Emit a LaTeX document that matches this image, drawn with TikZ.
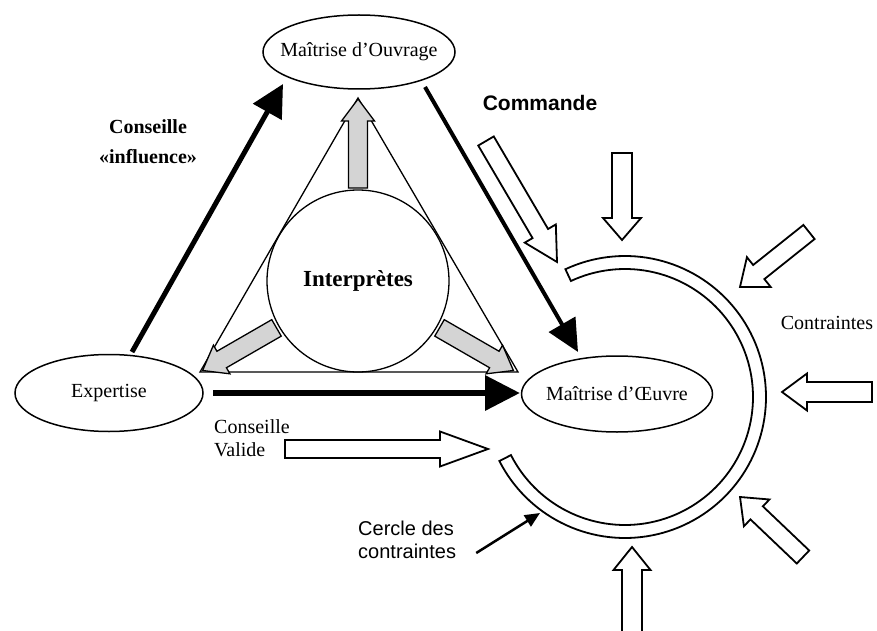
\documentclass[tikz,border=0pt]{standalone}
\usepackage{fontspec}
\setmainfont{Liberation Serif}
\setsansfont{Liberation Sans}
\usetikzlibrary{arrows.meta,shapes.geometric,calc}

% hollow / filled block arrow: #1 style, (#2,#3) tail, (#4,#5) tip,
% #6 shaft half width, #7 head half width, #8 head length
\newcommand\hollowarrow[8]{%
  \pgfmathsetmacro\haL{veclen((#4)-(#2),(#5)-(#3))}%
  \pgfmathsetmacro\haUx{((#4)-(#2))/\haL}%
  \pgfmathsetmacro\haUy{((#5)-(#3))/\haL}%
  \pgfmathsetmacro\haBx{(#4)-(#8)*\haUx}%
  \pgfmathsetmacro\haBy{(#5)-(#8)*\haUy}%
  \draw[#1] ({(#2)-(#6)*\haUy},{(#3)+(#6)*\haUx})
     -- ({\haBx-(#6)*\haUy},{\haBy+(#6)*\haUx})
     -- ({\haBx-(#7)*\haUy},{\haBy+(#7)*\haUx})
     -- (#4,#5)
     -- ({\haBx+(#7)*\haUy},{\haBy-(#7)*\haUx})
     -- ({\haBx+(#6)*\haUy},{\haBy-(#6)*\haUx})
     -- ({(#2)+(#6)*\haUy},{(#3)-(#6)*\haUx}) -- cycle;%
}

\begin{document}
\begin{tikzpicture}[x=1pt,y=-1pt,
  oval/.style={ellipse, draw, line width=1.5pt, inner sep=0pt, fill=white,
               font=\fontsize{20}{24}\selectfont},
  blackarrow/.style={line width=5pt, -{Triangle[length=32pt,width=32pt]}},
  grayarrow/.style={draw=black, fill=black!17, line width=1.3pt, line join=miter},
  whitearrow/.style={draw=black, fill=white, line width=1.8pt, line join=miter},
  serifnote/.style={inner sep=0pt, font=\fontsize{20}{23}\selectfont},
  sansnote/.style={inner sep=0pt, font=\sffamily\fontsize{20}{23}\selectfont},
  thinarrow/.style={line width=2.5pt, -{Triangle[length=15pt,width=13pt]}}
]
\fill[white] (0,0) rectangle (877,631);
\useasboundingbox (0,0) rectangle (877,631);

% white block arrows (constraints)
\hollowarrow{whitearrow}{486}{141}{557}{262}{9}{18}{33}
\hollowarrow{whitearrow}{622}{153}{622}{240}{10}{19}{22}
\hollowarrow{whitearrow}{809}{232}{740}{287}{9}{19}{24}
\hollowarrow{whitearrow}{872}{392}{782}{392}{10}{18.5}{25}
\hollowarrow{whitearrow}{803}{557}{740}{497}{9}{18.5}{23}
\hollowarrow{whitearrow}{632}{634}{632}{547}{10}{18.5}{23}
\hollowarrow{whitearrow}{285}{449}{488}{449}{9}{17.5}{48}

% circle of constraints (double-line arc band)
\draw[line width=1.8pt, fill=white, line join=miter]
  plot[domain=-115:153, samples=120] ({625+141*cos(\x)},{397+141*sin(\x)})
  -- plot[domain=153:-115, samples=120] ({625+128*cos(\x)},{397+128*sin(\x)})
  -- cycle;
\coordinate (cdctip) at (540,513);

% triangle and interpreters
\coordinate (apex) at (358,98);
\coordinate (bl) at (200,372);
\coordinate (br) at (518,372);
\draw[line width=1.3pt] (apex) -- (bl) -- (br) -- cycle;
\node[circle, draw, line width=1.3pt, minimum size=182pt, inner sep=0pt,
      font=\bfseries\fontsize{23}{26}\selectfont] (interp) at (358,281) {Interprètes};

% gray arrows from the interpreters to the triangle corners
\hollowarrow{grayarrow}{358}{188}{358}{99}{9.5}{16.5}{22}
\hollowarrow{grayarrow}{276.5}{327.9}{202.6}{370.5}{9.5}{16.5}{22}
\hollowarrow{grayarrow}{439.5}{327.9}{513.4}{370.5}{9.5}{16.5}{22}

% actors
\node[oval, minimum width=192pt, minimum height=74pt] (moa) at (359,52)
  {\makebox[0pt]{Maîtrise d'Ouvrage}};
\node[oval, minimum width=188pt, minimum height=77pt] (exp) at (109,393)
  {\makebox[0pt]{Expertise}};
\node[oval, minimum width=191pt, minimum height=76pt] (moe) at (617,394)
  {\makebox[0pt]{Maîtrise d'Œuvre}};

% black arrows
\draw[blackarrow] ([shift={(23,-41)}]exp.center) -- ([shift={(-76,32)}]moa.center);
\draw[blackarrow, line width=4pt, -{Triangle[length=32pt,width=30pt]}]
  ([shift={(66,35)}]moa.center) -- ([shift={(-39,-42)}]moe.center);
\draw[blackarrow, line width=6.5pt, -{Triangle[length=35pt,width=34pt]}]
  ([shift={(104,0)}]exp.center) -- ([shift={(-97,-1)}]moe.center);

% labels
\node[inner sep=0pt, align=center, font=\bfseries\fontsize{20}{30}\selectfont] (cons1) at (148,142)
  {Conseille\\«influence»};
\node[sansnote, font=\sffamily\bfseries\fontsize{21}{24}\selectfont] (cmd) at (540,103) {Commande};
\node[serifnote] (ctr) at (827,323) {Contraintes};
\node[serifnote, align=left, anchor=west] (cons2) at (214,438) {Conseille\\Valide};
\node[sansnote, align=left, anchor=west] (cdc) at (358,540) {Cercle des\\contraintes};
\draw[thinarrow] ([shift={(20,13)}]cdc.east) -- (cdctip);
\end{tikzpicture}
\end{document}
